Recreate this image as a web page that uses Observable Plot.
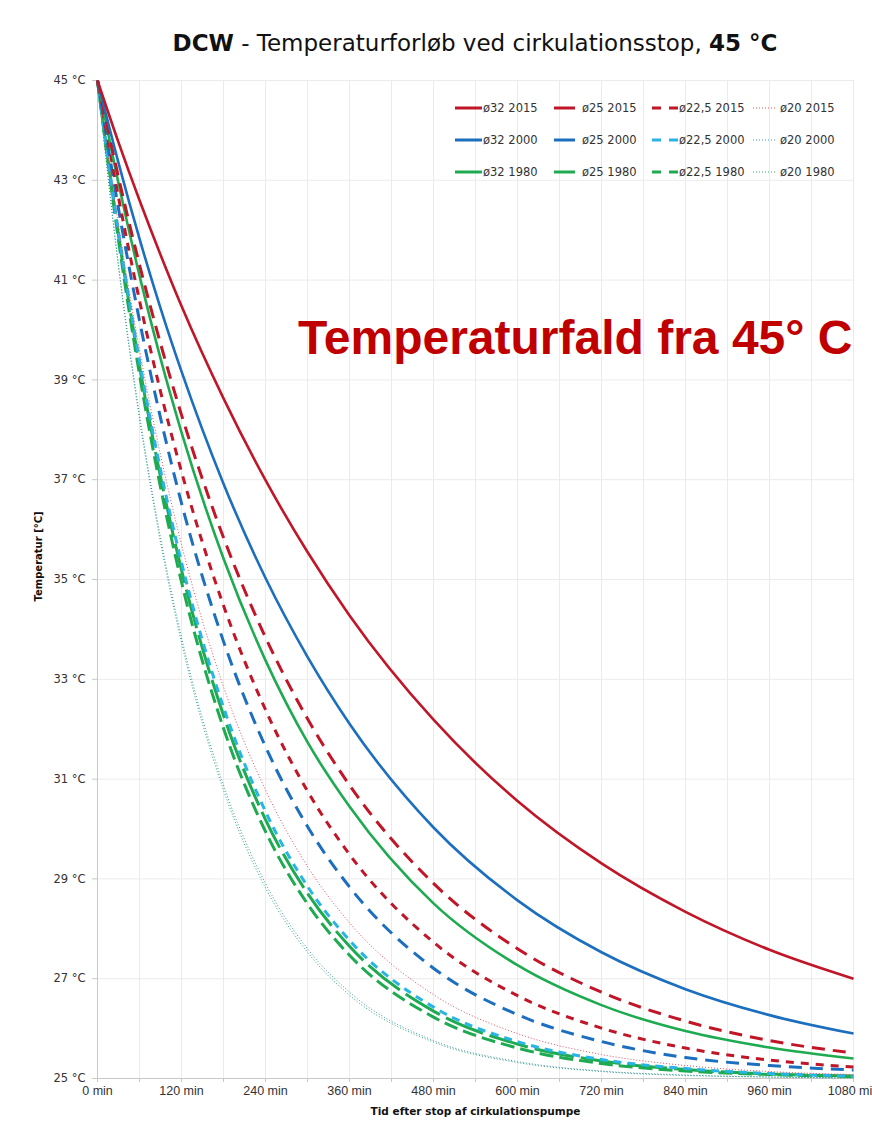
<!DOCTYPE html>
<html>
<head>
<meta charset="utf-8">
<script src="https://cdn.jsdelivr.net/npm/d3@7"></script>
<script src="https://cdn.jsdelivr.net/npm/@observablehq/plot@0.6"></script>
<style>
  body { margin:0; background:#fff; width:872px; height:1126px; overflow:hidden; position:relative; font-family:"DejaVu Sans", sans-serif; }
  #title { position:absolute; left:97px; width:756px; top:30px; text-align:center; font-size:23px; line-height:26px; color:#111; white-space:nowrap; }
  #chart { position:absolute; left:0; top:62px; }
  #note { position:absolute; left:298px; top:314px; font-family:"Liberation Sans", Arial, sans-serif; font-weight:bold; font-size:48px; line-height:48px; color:#c00000; white-space:nowrap; }
  .lg { position:absolute; font-size:11.5px; color:#333; line-height:14px; white-space:nowrap; }
  .sw { position:absolute; }
</style>
</head>
<body>
<div id="title"><b>DCW</b> - Temperaturforløb ved cirkulationsstop, <b>45 °C</b></div>
<div id="chart"></div>
<div id="legend"></div>
<div id="note">Temperaturfald fra 45° C</div>
<script>
// ---- data ----
const minutes = [0, 30, 60, 90, 120, 180, 240, 300, 360, 480, 600, 720, 840, 960, 1080];

const d32_2015  = [45, 43.76, 42.6, 41.51, 40.48, 38.63, 36.99, 35.55, 34.28, 32.19, 30.56, 29.31, 28.34, 27.58, 27.0];
const d25_2015  = [45, 43.06, 41.31, 39.73, 38.3, 35.84, 33.84, 32.21, 30.88, 28.91, 27.6, 26.73, 26.15, 25.76, 25.51];
const d225_2015 = [45, 42.66, 40.59, 38.77, 37.16, 34.48, 32.39, 30.76, 29.49, 27.73, 26.66, 26.01, 25.61, 25.37, 25.23];
const d20_2015  = [45, 42.1, 39.6, 37.5, 35.7, 32.85, 30.78, 29.25, 28.12, 26.68, 25.9, 25.48, 25.26, 25.14, 25.08];

const d32_2000  = [45, 43.35, 41.83, 40.44, 39.17, 36.92, 35.03, 33.45, 32.11, 30.03, 28.57, 27.53, 26.79, 26.27, 25.9];
const d25_2000  = [45, 42.43, 40.19, 38.24, 36.53, 33.76, 31.65, 30.05, 28.84, 27.21, 26.28, 25.74, 25.42, 25.26, 25.17];
const d225_2000 = [45, 41.96, 39.38, 37.2, 35.34, 32.44, 30.35, 28.85, 27.77, 26.43, 25.74, 25.38, 25.2, 25.1, 25.05];
const d20_2000  = [45, 41.31, 38.3, 35.84, 33.84, 30.88, 28.91, 27.6, 26.73, 25.76, 25.34, 25.15, 25.07, 25.03, 25.01];

const d32_1980  = [45, 42.94, 41.09, 39.43, 37.95, 35.42, 33.38, 31.74, 30.45, 28.51, 27.27, 26.47, 25.95, 25.62, 25.4];
const d25_1980  = [45, 41.9, 39.28, 37.06, 35.19, 32.28, 30.19, 28.71, 27.65, 26.35, 25.69, 25.35, 25.18, 25.09, 25.05];
const d225_1980 = [45, 41.8, 39.11, 36.85, 34.95, 32.02, 29.95, 28.5, 27.47, 26.23, 25.61, 25.3, 25.15, 25.08, 25.04];
const d20_1980  = [45, 41.26, 38.22, 35.75, 33.74, 30.78, 28.82, 27.53, 26.67, 25.73, 25.32, 25.14, 25.06, 25.03, 25.01];

const seriesNames = ["ø32 2015","ø25 2015","ø22,5 2015","ø20 2015",
                     "ø32 2000","ø25 2000","ø22,5 2000","ø20 2000",
                     "ø32 1980","ø25 1980","ø22,5 1980","ø20 1980"];
const seriesValues = [d32_2015, d25_2015, d225_2015, d20_2015,
                      d32_2000, d25_2000, d225_2000, d20_2000,
                      d32_1980, d25_1980, d225_1980, d20_1980];

const xTickValues = [0, 120, 240, 360, 480, 600, 720, 840, 960, 1080];
const xMinorTicks = [0, 60, 120, 180, 240, 300, 360, 420, 480, 540, 600, 660, 720, 780, 840, 900, 960, 1020, 1080];
const yTickValues = [25, 27, 29, 31, 33, 35, 37, 39, 41, 43, 45];

// ---- styles ----
const RED = "#c01628", RED_DOT = "#e0505e", BLUE = "#1c6ebe", BLUE_DOT = "#3f93b8",
      CYAN = "#29b4e6", GREEN = "#1eaa50", TEAL_DOT = "#2aa878";
const styles = {
  "ø32 2015":  {stroke: RED, w: 2.6, dash: null},
  "ø25 2015":  {stroke: RED, w: 3, dash: "13,8"},
  "ø22,5 2015":{stroke: RED, w: 3, dash: "8,7"},
  "ø20 2015":  {stroke: RED_DOT, w: 1, dash: "1,2"},
  "ø32 2000":  {stroke: BLUE, w: 2.6, dash: null},
  "ø25 2000":  {stroke: BLUE, w: 3, dash: "13,8"},
  "ø22,5 2000":{stroke: CYAN, w: 3, dash: "8,6"},
  "ø20 2000":  {stroke: BLUE_DOT, w: 1, dash: "1,2"},
  "ø32 1980":  {stroke: GREEN, w: 2.6, dash: null},
  "ø25 1980":  {stroke: GREEN, w: 3, dash: "40,7"},
  "ø22,5 1980":{stroke: GREEN, w: 3, dash: "14,6"},
  "ø20 1980":  {stroke: TEAL_DOT, w: 1, dash: "1,2"}
};

const rows = [];
seriesNames.forEach((name, i) => {
  seriesValues[i].forEach((v, j) => rows.push({name, t: minutes[j], T: v}));
});

const drawOrder = ["ø20 1980","ø20 2000","ø22,5 1980","ø25 1980","ø22,5 2000","ø20 2015",
                   "ø25 2000","ø22,5 2015","ø32 1980","ø25 2015","ø32 2000","ø32 2015"];

const lineMarks = drawOrder.map(name => {
  const s = styles[name];
  return Plot.line(rows.filter(r => r.name === name), {
    x: "t", y: "T", stroke: s.stroke, strokeWidth: s.w,
    strokeDasharray: s.dash || undefined, curve: "monotone-x",
    strokeLinecap: "butt"
  });
});

const chart = Plot.plot({
  width: 872,
  height: 1064,
  marginLeft: 97,
  marginRight: 19,
  marginTop: 18,
  marginBottom: 48,
  x: {domain: [0, 1080]},
  y: {domain: [25, 45]},
  style: {fontFamily: "DejaVu Sans, sans-serif", fontSize: "11.5px", color: "#333", background: "transparent", overflow: "visible"},
  marks: [
    Plot.gridX(xMinorTicks, {stroke: "#ebebeb", strokeOpacity: 1}),
    Plot.gridY(yTickValues, {stroke: "#ebebeb", strokeOpacity: 1}),
    Plot.ruleX([0], {stroke: "#c8c8c8"}),
    Plot.ruleY([25], {stroke: "#c8c8c8"}),
    Plot.axisX(xMinorTicks, {tickSize: 4, tickFormat: () => "", stroke: "#c8c8c8", label: null}),
    Plot.axisX(xTickValues, {tickSize: 0, tickPadding: 8, tickFormat: d => d + " min", label: null, fontSize: 12.5, fontFamily: "Liberation Sans, Arial, sans-serif", fill: "#333"}),
    Plot.axisY(yTickValues, {tickSize: 5, tickPadding: 7, tickFormat: d => d + " °C", label: null, stroke: "#c8c8c8", fill: "#333", fontSize: 11.5}),
    Plot.text(["Tid efter stop af cirkulationspumpe"], {text: d => d, frameAnchor: "bottom", dy: 36, fontWeight: "bold", fontSize: 10.5, fill: "#111"}),
    Plot.text(["Temperatur [°C]"], {text: d => d, frameAnchor: "left", dx: -59, dy: 22, rotate: -90, fontWeight: "bold", fontSize: 10, fill: "#111"}),
    ...lineMarks
  ]
});
document.getElementById("chart").appendChild(chart);

// ---- legend ----
const legend = document.getElementById("legend");
const rowY = [108, 140, 172];
const colSwatch = [[455, 482, "solid"], [554, 575, "solid"], [652, 678, "dash"], [753, 777, "dot"]];
const colText = [483, 582, 679, 780];
seriesNames.forEach((name, i) => {
  const r = Math.floor(i / 4), c = i % 4;
  const s = styles[name];
  const [x0, x1, kind] = colSwatch[c];
  const w = x1 - x0;
  const sw = document.createElementNS("http://www.w3.org/2000/svg", "svg");
  sw.setAttribute("class", "sw");
  sw.setAttribute("width", w);
  sw.setAttribute("height", 6);
  sw.style.left = x0 + "px";
  sw.style.top = (rowY[r] - 3) + "px";
  const ln = document.createElementNS("http://www.w3.org/2000/svg", "line");
  ln.setAttribute("x1", 0); ln.setAttribute("x2", w);
  ln.setAttribute("y1", 3); ln.setAttribute("y2", 3);
  ln.setAttribute("stroke", s.stroke);
  ln.setAttribute("stroke-width", kind === "dot" ? 1 : 3);
  if (kind === "dash") ln.setAttribute("stroke-dasharray", "9,8");
  if (kind === "dot") ln.setAttribute("stroke-dasharray", "1,2");
  sw.appendChild(ln);
  legend.appendChild(sw);
  const tx = document.createElement("div");
  tx.className = "lg";
  tx.textContent = name;
  tx.style.left = colText[c] + "px";
  tx.style.top = (rowY[r] - 7) + "px";
  legend.appendChild(tx);
});
</script>
</body>
</html>
